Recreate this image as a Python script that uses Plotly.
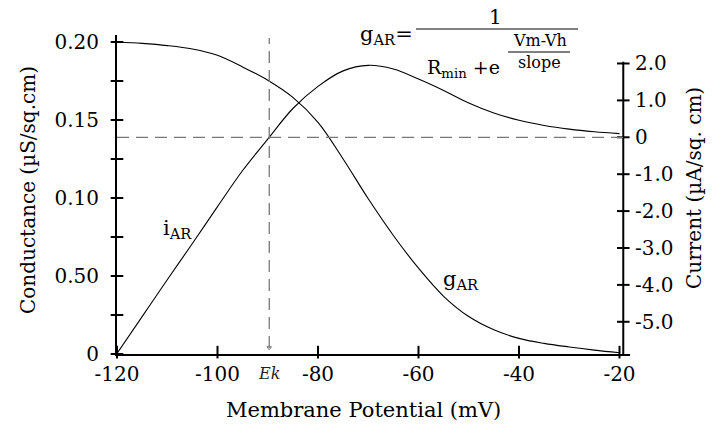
import plotly.graph_objects as go

# Membrane potential grid (mV)
potential_mv = [-120, -115, -110, -105, -100, -95, -90, -85, -80, -75, -70,
                -65, -60, -55, -50, -45, -40, -35, -30, -25, -20]

# Anomalous rectifier conductance g_AR (uS/sq.cm)
g_ar = [0.2000, 0.1991, 0.1977, 0.1955, 0.1915, 0.1840, 0.1755, 0.1645,
        0.1485, 0.1250, 0.0995, 0.0760, 0.0550, 0.0370, 0.0240, 0.0155,
        0.0100, 0.0068, 0.0045, 0.0025, 0.0008]

# Anomalous rectifier current i_AR (uA/sq.cm)
i_ar = [-5.86, -4.86, -3.86, -2.88, -1.88, -0.90, -0.05, 0.78, 1.38, 1.80,
        1.95, 1.85, 1.58, 1.27, 0.93, 0.66, 0.46, 0.32, 0.22, 0.15, 0.10]

# Potassium reversal potential (mV)
ek_mv = -89.7

# Axis ticks
x_ticks = [-120, -100, -80, -60, -40, -20]
g_tick_marks = [0, 0.025, 0.05, 0.075, 0.10, 0.125, 0.15, 0.175, 0.20]
g_label_vals = [0, 0.05, 0.10, 0.15, 0.20]
g_label_text = ["0", "0.50", "0.10", "0.15", "0.20"]
i_tick_vals = [2, 1, 0, -1, -2, -3, -4, -5]
i_tick_text = ["2.0", "1.0", "0", "-1.0", "-2.0", "-3.0", "-4.0", "-5.0"]

FONT = "DejaVu Serif"
W, H = 722, 426
L, R, T, B = 117, 630, 35, 354          # plot area in pixels
X_RANGE = [-120, -17.91]
G_RANGE = [0, 0.2045]
I_RANGE = [-5.873, 2.772]
X_RIGHT_AXIS = -19.25                    # where the current axis is drawn
I_AXIS_TOP = 2.05


def px(x):
    return (x - L) / (R - L)


def py(y):
    return (B - y) / (B - T)


fig = go.Figure()

curve = dict(color="black", width=1.1)
fig.add_trace(go.Scatter(
    x=potential_mv, y=g_ar, mode="lines", line_shape="spline",
    line=curve, yaxis="y", hoverinfo="skip"))
fig.add_trace(go.Scatter(
    x=potential_mv, y=i_ar, mode="lines", line_shape="spline",
    line=curve, yaxis="y2", hoverinfo="skip"))

# crossing tick marks, drawn as short line markers on each axis
tick_marker = dict(color="black", size=9, line=dict(color="black", width=2))
fig.add_trace(go.Scatter(
    x=[X_RANGE[0]] * len(g_tick_marks), y=g_tick_marks, mode="markers",
    marker=dict(symbol="line-ew", **tick_marker), yaxis="y",
    cliponaxis=False, hoverinfo="skip"))
fig.add_trace(go.Scatter(
    x=[X_RIGHT_AXIS] * len(i_tick_vals), y=i_tick_vals, mode="markers",
    marker=dict(symbol="line-ew", **tick_marker), yaxis="y2",
    cliponaxis=False, hoverinfo="skip"))
fig.add_trace(go.Scatter(
    x=x_ticks, y=[0.0012] * len(x_ticks), mode="markers",
    marker=dict(symbol="line-ns", **tick_marker), yaxis="y",
    cliponaxis=False, hoverinfo="skip"))

# small arrowhead at the foot of the Ek marker line
fig.add_trace(go.Scatter(
    x=[ek_mv], y=[0.004], mode="markers", yaxis="y",
    marker=dict(symbol="triangle-down-open", size=4, color="#777",
                line=dict(width=1)), hoverinfo="skip"))

shapes = []
# right-hand current axis line
shapes.append(dict(type="line", xref="x", yref="y2", x0=X_RIGHT_AXIS,
                   x1=X_RIGHT_AXIS, y0=I_RANGE[0], y1=I_AXIS_TOP,
                   line=dict(color="black", width=2)))

dash = dict(color="#777", width=1.3, dash="12px,7px")
# zero-current reference line
shapes.append(dict(type="line", xref="x", yref="y2", x0=X_RANGE[0],
                   x1=X_RIGHT_AXIS, y0=0, y1=0, line=dash))
# Ek marker line
shapes.append(dict(type="line", xref="x", yref="paper", x0=ek_mv, x1=ek_mv,
                   y0=py(348), y1=py(38), line=dash))

# fraction bars of the g_AR equation
shapes.append(dict(type="line", xref="paper", yref="paper", x0=px(416),
                   x1=px(578), y0=py(29), y1=py(29),
                   line=dict(color="black", width=1)))
shapes.append(dict(type="line", xref="paper", yref="paper", x0=px(508),
                   x1=px(570), y0=py(52), y1=py(52),
                   line=dict(color="black", width=1)))

annotations = []


def note(text, x, y, size=20, xanchor="center", yanchor="middle", **kw):
    annotations.append(dict(text=text, x=px(x), y=py(y), xref="paper",
                            yref="paper", showarrow=False, xanchor=xanchor,
                            yanchor=yanchor,
                            font=dict(family=FONT, size=size,
                                      color=kw.pop("color", "black")), **kw))


note("Membrane Potential (mV)", 363, 410, size=21)
note("Conductance (µS/sq.cm)", 28, 190, size=20, textangle=-90)
note("Current (µA/sq. cm)", 694, 188, size=20, textangle=-90)
note("<i>Ek</i>", 269, 373, size=16, color="#222")
note("i<sub>AR</sub>", 177, 229, size=21)
note("g<sub>AR</sub>", 461, 280, size=21)

# g_AR equation
note("g<sub>AR</sub>=", 415, 35, size=21, xanchor="right")
note("1", 495, 17, size=20)
note("R<sub>min</sub> +e", 425, 68, size=19, xanchor="left")
note("Vm-Vh", 540, 41, size=16)
note("slope", 539, 62, size=16)

fig.update_layout(
    width=W, height=H,
    margin=dict(l=L, r=W - R, t=T, b=H - B, pad=0),
    paper_bgcolor="white", plot_bgcolor="white",
    showlegend=False,
    font=dict(family=FONT, size=20, color="black"),
    xaxis=dict(range=X_RANGE, showgrid=False, zeroline=False,
               showline=True, linecolor="black", linewidth=2,
               tickvals=x_ticks, ticktext=[str(v) for v in x_ticks],
               ticks="", ticklabelstandoff=1,
               tickfont=dict(family=FONT, size=20)),
    yaxis=dict(range=G_RANGE, showgrid=False, zeroline=False,
               showline=True, linecolor="black", linewidth=2,
               tickvals=g_label_vals, ticktext=g_label_text,
               ticks="", ticklabelstandoff=12,
               tickfont=dict(family=FONT, size=20)),
    yaxis2=dict(range=I_RANGE, overlaying="y", side="right",
                anchor="free", position=px(623), showgrid=False,
                zeroline=False, showline=False,
                tickvals=i_tick_vals, ticktext=i_tick_text,
                ticks="", ticklabelstandoff=11,
                tickfont=dict(family=FONT, size=20)),
    shapes=shapes,
    annotations=annotations,
)

fig.write_html("out.html")
